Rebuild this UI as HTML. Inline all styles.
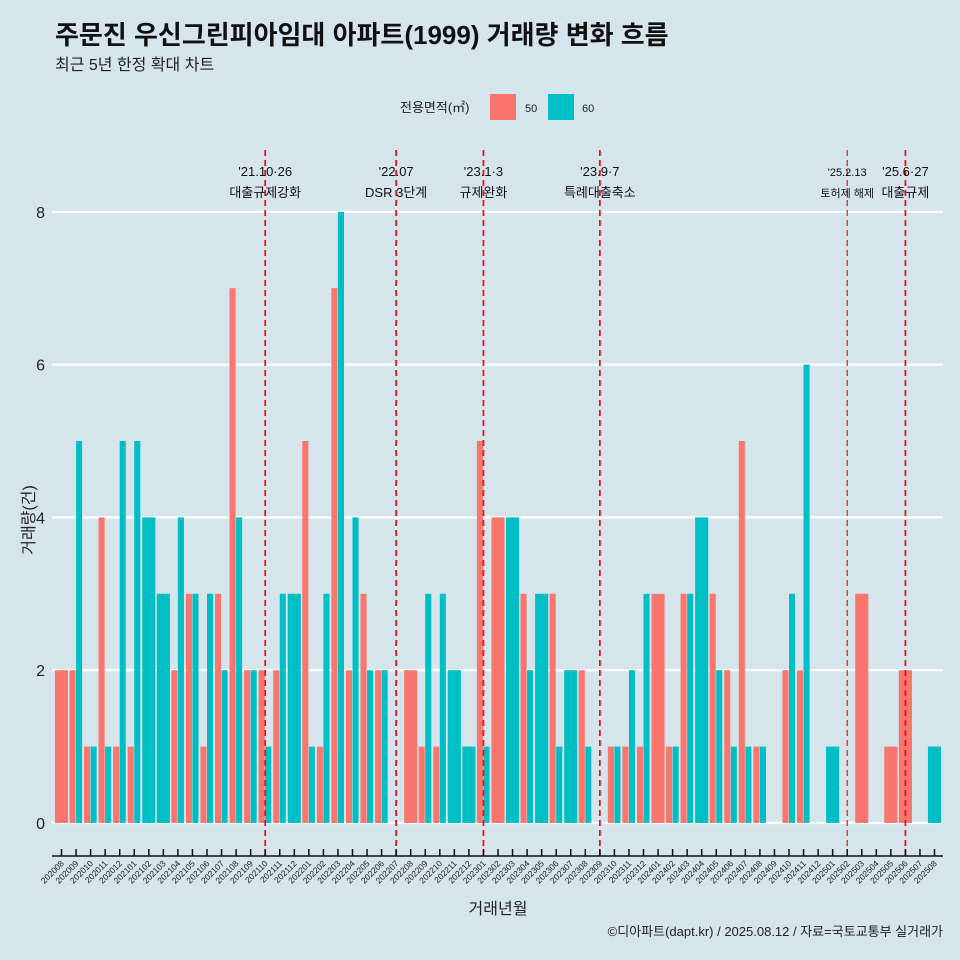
<!DOCTYPE html>
<html><head><meta charset="utf-8">
<style>
body{margin:0;background:#d6e4eb;}
svg{display:block;font-family:"Liberation Sans","Noto Sans CJK KR",sans-serif;}
</style></head>
<body>
<svg id="chart" width="960" height="960" viewBox="0 0 960 960">
<rect x="0" y="0" width="960" height="960" fill="#d6e4eb"/>
<text x="55" y="44" font-size="26" font-weight="bold" fill="#111">주문진 우신그린피아임대 아파트(1999) 거래량 변화 흐름</text>
<text x="55" y="70" font-size="16" fill="#222">최근 5년 한정 확대 차트</text>
<g>
<text x="400" y="112" font-size="13" fill="#222">전용면적(㎡)</text>
<rect x="490" y="94" width="26" height="26" fill="#f8766d"/>
<text x="525" y="112" font-size="11" fill="#222">50</text>
<rect x="548" y="94" width="26" height="26" fill="#00bfc4"/>
<text x="582" y="112" font-size="11" fill="#222">60</text>
</g>
<g id="grid"></g>
<g id="bars"></g>
<g id="events"></g>
<g id="axes"></g>
<text x="498" y="914" font-size="16" text-anchor="middle" fill="#222">거래년월</text>
<text transform="translate(34,520) rotate(-90)" font-size="16" text-anchor="middle" fill="#222">거래량(건)</text>
<text x="943" y="936" font-size="13" text-anchor="end" fill="#222">©디아파트(dapt.kr) / 2025.08.12 / 자료=국토교통부 실거래가</text>
</svg>
<script>
const months = ["202008","202009","202010","202011","202012","202101","202102","202103","202104","202105","202106","202107","202108","202109","202110","202111","202112","202201","202202","202203","202204","202205","202206","202207","202208","202209","202210","202211","202212","202301","202302","202303","202304","202305","202306","202307","202308","202309","202310","202311","202312","202401","202402","202403","202404","202405","202406","202407","202408","202409","202410","202411","202412","202501","202502","202503","202504","202505","202506","202507","202508"];
const s50 = [2,2,1,4,1,1,0,0,2,3,1,3,7,2,2,2,0,5,1,7,2,3,2,0,2,1,1,0,0,5,4,0,3,0,3,0,2,0,1,1,1,3,1,3,0,3,2,5,1,0,2,2,0,0,0,3,0,1,2,0,0];
const s60 = [0,5,1,1,5,5,4,3,4,3,3,2,4,2,1,3,3,1,3,8,4,2,2,0,0,3,3,2,1,1,0,4,2,3,1,2,1,0,1,2,3,0,1,3,4,2,1,1,1,0,3,6,0,1,0,0,0,0,0,0,1];
const yTicks = [0,2,4,6,8];
const eventMonths = ["202110","202207","202301","202309","202502","202506"];
const eventLine1 = ["'21.10·26","'22.07","'23.1·3","'23.9·7","'25.2.13","'25.6·27"];
const eventLine2 = ["대출규제강화","DSR 3단계","규제완화","특례대출축소","토허제 해제","대출규제"];

const NS="http://www.w3.org/2000/svg";
const x0=61.5, step=14.55, y0=823, unit=76.4, bw=13.1;
const xs=i=>x0+i*step;
const ys=v=>y0-v*unit;
function mk(tag,attrs,parent){const e=document.createElementNS(NS,tag);for(const k in attrs)e.setAttribute(k,attrs[k]);document.getElementById(parent).appendChild(e);return e;}

yTicks.forEach(t=>{
  const l=mk('line',{x1:52,x2:943,y1:ys(t),y2:ys(t),stroke:'#fff','stroke-width':2.2},'grid');
  
  
  const tx=mk('text',{x:45,y:ys(t)+6,'font-size':16,'text-anchor':'end',fill:'#222'},'axes');
  tx.textContent=t;
  
  
});

months.forEach((m,i)=>{
  const a=s50[i], b=s60[i], cx=xs(i);
  if(a>0&&b>0){
    const r1=mk('rect',{x:cx-bw/2,y:ys(a),width:bw/2-0.5,height:a*unit,fill:'#f8766d'},'bars');
    
    
    const r2=mk('rect',{x:cx,y:ys(b),width:bw/2-0.5,height:b*unit,fill:'#00bfc4'},'bars');
    
    
  } else if(a>0){
    const r=mk('rect',{x:cx-bw/2,y:ys(a),width:bw,height:a*unit,fill:'#f8766d'},'bars');
    
    
  } else if(b>0){
    const r=mk('rect',{x:cx-bw/2,y:ys(b),width:bw,height:b*unit,fill:'#00bfc4'},'bars');
    
    
  }
  const tk=mk('line',{x1:cx,x2:cx,y1:849,y2:856,stroke:'#111','stroke-width':1.5},'axes');
  
  
  const lb=mk('text',{x:cx+3,y:864,'font-size':8.5,'text-anchor':'end',fill:'#222',transform:`rotate(-45 ${cx+3} 864)`},'axes');
  lb.textContent=m;
  
  
});
const ax=mk('line',{x1:52,x2:943,y1:856,y2:856,stroke:'#111','stroke-width':1.5},'axes');



eventMonths.forEach((m,k)=>{
  const i=months.indexOf(m), cx=xs(i), thin=(m==="202502");
  const l=mk('line',{x1:cx,x2:cx,y1:150,y2:856,stroke:'#e8141c','stroke-width':thin?1.2:1.8,'stroke-dasharray':'6,4'},'events');
  
  
  const fs=thin?11:13;
  const t1=mk('text',{x:cx,y:176,'font-size':fs,'text-anchor':'middle',fill:'#111'},'events');
  t1.textContent=eventLine1[k];
  
  
  const t2=mk('text',{x:cx,y:197,'font-size':fs,'text-anchor':'middle',fill:'#111'},'events');
  t2.textContent=eventLine2[k];
  
  
});
</script>
</body></html>
